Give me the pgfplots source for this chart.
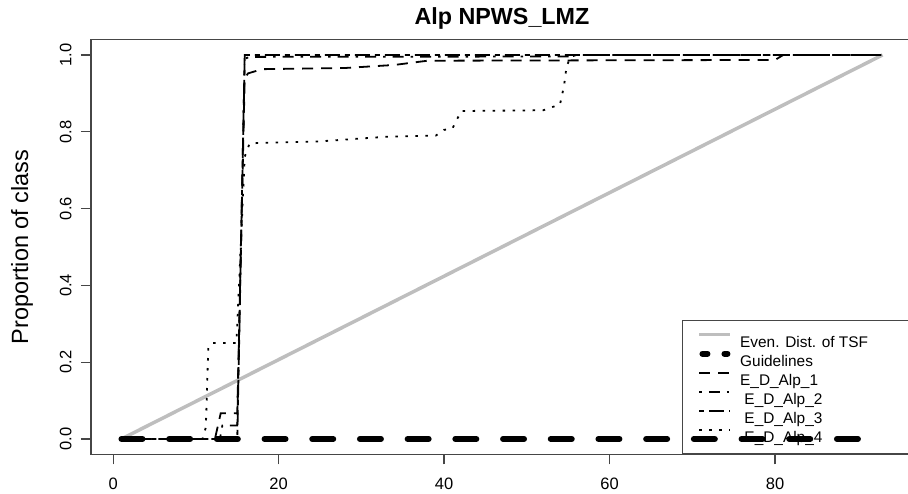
\documentclass[border=0pt]{standalone}
\usepackage{fontspec}
\setmainfont{Liberation Sans}
\usepackage{pgfplots}
\pgfplotsset{compat=1.18}
\definecolor{evengray}{RGB}{190,190,190}
\definecolor{framegray}{RGB}{70,70,70}
\pgfplotsset{
  commonaxis/.style={
    at={(91pt,38.7pt)}, anchor=south west,
    scale only axis, width=822pt, height=414.7pt,
    xmin=-2.68, xmax=96.68, ymin=-0.04, ymax=1.04,
  },
  alpone/.style={black, line width=1.8pt, dash pattern=on 11pt off 8pt},
  alptwo/.style={black, line width=1.8pt, dash pattern=on 2.5pt off 7pt on 11pt off 7pt},
  alpthree/.style={black, line width=1.8pt, dash pattern=on 5pt off 5pt on 15pt off 5pt},
  alpfour/.style={black, line width=1.8pt, dash pattern=on 2.5pt off 7.5pt},
}
\begin{document}
\begin{tikzpicture}[x=1pt,y=1pt]
\useasboundingbox (0,0) rectangle (908,493);
\begin{axis}[
  commonaxis,
  axis line style={framegray, line width=1.2pt},
  tick style={framegray, line width=1.2pt},
  tick align=outside, major tick length=10pt,
  tick pos=left,
  xtick={0,20,40,60,80}, xticklabels={0,20,40,60,80},
  ytick={0,0.2,0.4,0.6,0.8,1}, yticklabels={0.0,0.2,0.4,0.6,0.8,1.0},
  tick label style={font=\fontsize{16.5}{19}\selectfont},
  yticklabel style={rotate=90, anchor=south},
  xticklabel shift=10pt, yticklabel shift=6pt,
  title={Alp NPWS\_LMZ},
  title style={at={(0.5,1)}, anchor=base, yshift=9pt, font=\fontsize{23.3}{28}\selectfont\bfseries},
  ylabel={Proportion of class},
  ylabel style={at={(axis description cs:-0.0839,0.5)}, anchor=center, rotate=0, font=\fontsize{23.5}{27}\selectfont},
  legend cell align=left,
  legend style={at={(axis cs:68.77,-0.04)}, anchor=south west, draw=framegray, line width=1.2pt, fill=white,
    font=\fontsize{15.4}{18}\selectfont, inner xsep=15pt, inner ysep=9.5pt, row sep=0pt, column sep=8pt,
    nodes={inner xsep=0pt, inner ysep=0pt, text height=17pt, text depth=2pt}},
  legend image code/.code={\draw[#1] (0pt,5pt) -- (31pt,5pt);},
]
\addplot[evengray, line width=3.5pt] coordinates {(1,0) (93,1)};
\addlegendentry{\makebox[165pt][l]{Even. Dist. of TSF}}
\addlegendimage{legend image code/.code={\draw[black, line width=6pt, line cap=round] (3pt,5pt)--(8pt,5pt) (25pt,5pt)--(28pt,5pt);}}
\addlegendentry{Guidelines}
\addplot[alpone] coordinates {
(1,0) (12.3,0) (13,0.067) (15,0.067) (15.9,0.94) (16.3,0.952) (18,0.963) (28,0.966) (34,0.974) (38,0.985) (80,0.987) (81,1.0) (93,1.0)};
\addlegendentry{E\_D\_Alp\_1}
\addplot[alptwo] coordinates {
(1,0) (12.9,0) (13.2,0.035) (15,0.035) (15.9,0.99) (16.5,0.995) (55,0.996) (56,1) (93,1)};
\addlegendentry{\ E\_D\_Alp\_2}
\addplot[alpthree] coordinates {
(1,0) (15,0) (15.9,1.0) (93,1.0)};
\addlegendentry{\ E\_D\_Alp\_3}
\addplot[alpfour] coordinates {
(1,0) (10.8,0) (11.2,0.03) (11.5,0.24) (12,0.25) (14.9,0.25) (15.9,0.735) (16.5,0.77) (25,0.775) (33,0.787) (39,0.79) (40,0.805) (41,0.808) (41.5,0.83) (42.1,0.854) (52,0.856) (53,0.864) (54,0.87) (54.5,0.92) (54.8,0.97) (55.3,0.995) (56,1) (93,1)};
\addlegendentry{\ E\_D\_Alp\_4}
\end{axis}
\begin{axis}[commonaxis, hide axis]
\addplot[black, line width=6pt, line cap=round, dash pattern=on 21pt off 26.7pt] coordinates {(1,0) (93,0)};
\end{axis}
\end{tikzpicture}
\end{document}
